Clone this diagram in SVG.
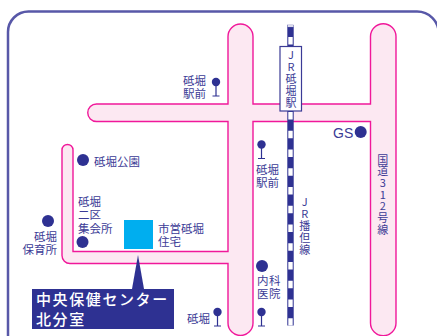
<svg xmlns="http://www.w3.org/2000/svg" width="437" height="336" viewBox="0 0 437 336">
<style>
text{font-family:"Noto Sans CJK JP","Liberation Sans",sans-serif;font-size:11.5px;fill:#3b3b96}
.v{writing-mode:vertical-rl;text-orientation:upright;font-size:11px;letter-spacing:1px}
.poi{fill:#2e3192}
.stem{stroke:#2e3192;stroke-width:1.2;fill:none}
.lbl{fill:#fff;font-size:15px;font-weight:500;letter-spacing:1.600px}
</style>
<defs>
<g id="stop"><circle class="poi" cx="0" cy="0" r="4.2"/><path class="stem" d="M0 3V14M-3.5 14H3.5"/></g>
</defs>
<rect width="437" height="336" fill="#fff"/>
<path d="M8 340V32A20.500 20.500 0 0 1 28.500 11.500H417A21.700 21.700 0 0 1 438.700 33.200" fill="none" stroke="#5858a8" stroke-width="2.500"/>
<path id="roads" d="M228 36.500a12.500 12.500 0 0 1 25 0V104H370.500V36.500a12.750 12.750 0 0 1 25.500 0V323a12.750 12.750 0 0 1-25.500 0V121.500H253V323a12.500 12.500 0 0 1-25 0V263.500H70a8 8 0 0 1-8-8V150a5.500 5.500 0 0 1 11 0V251.500H228V121.500H96.500a8.750 8.750 0 0 1 0-17.500H228Z" fill="#fce8f2" stroke="#f0189a" stroke-width="1.400"/>
<g id="railway">
<rect x="287.300" y="25" width="6.400" height="300.500" fill="#2e3192"/>
<rect x="287.300" y="25" width="6.400" height="2" fill="#fff" stroke="#6a6ab0" stroke-width=".5"/>
<path d="M290.500 37V325.500" stroke="#fff" stroke-width="4.400" stroke-dasharray="7.500 11.250" fill="none"/>
</g>
<g id="station">
<rect x="280" y="46.500" width="21.500" height="64.500" fill="#fff" stroke="#3b3b96" stroke-width="1.200"/>
<text class="v" x="291" y="49.500">JR砥堀駅</text>
</g>
<g id="stop-1"><use href="#stop" x="216" y="82"/><text x="183" y="85">砥堀</text><text x="183" y="98">駅前</text></g>
<g id="stop-2"><use href="#stop" x="261.500" y="144.500"/><text x="256" y="174">砥堀</text><text x="256" y="187">駅前</text></g>
<g id="stop-3"><use href="#stop" x="261.500" y="312"/></g>
<g id="stop-4"><use href="#stop" x="217.500" y="312"/><text x="187" y="323">砥堀</text></g>
<g id="park"><circle class="poi" cx="83" cy="160" r="6"/><text x="94" y="166">砥堀公園</text></g>
<g id="hall"><circle class="poi" cx="82.500" cy="242" r="6"/><text x="78" y="206">砥堀</text><text x="78" y="219">二区</text><text x="78" y="232.500">集会所</text></g>
<g id="nursery"><circle class="poi" cx="48" cy="221" r="6"/><text x="57" y="241" text-anchor="end">砥堀</text><text x="57" y="254" text-anchor="end">保育所</text></g>
<g id="gs"><circle class="poi" cx="360.700" cy="132" r="6"/><text x="333" y="137.500" style="font-family:'Liberation Sans',sans-serif;font-size:14px">GS</text></g>
<g id="clinic"><circle class="poi" cx="262" cy="266" r="6"/><text x="257" y="285" letter-spacing=".5">内科</text><text x="257" y="298" letter-spacing=".5">医院</text></g>
<g id="housing"><rect x="124" y="220" width="29" height="29" fill="#00aeef"/><text x="158" y="233">市営砥堀</text><text x="158" y="246">住宅</text></g>
<g id="callout">
<path d="M138 255L144 289H132Z" fill="#2e3192"/>
<rect x="32" y="289" width="142" height="40" fill="#2e3192"/>
<text class="lbl" x="36" y="305">中央保健センター</text>
<text class="lbl" x="36" y="325">北分室</text>
</g>
<g id="line-label"><text class="v" x="304.700" y="196">JR播但線</text></g>
<g id="road-label"><text class="v" x="382.700" y="154" style="letter-spacing:.7px">国道312号線</text></g>
</svg>
